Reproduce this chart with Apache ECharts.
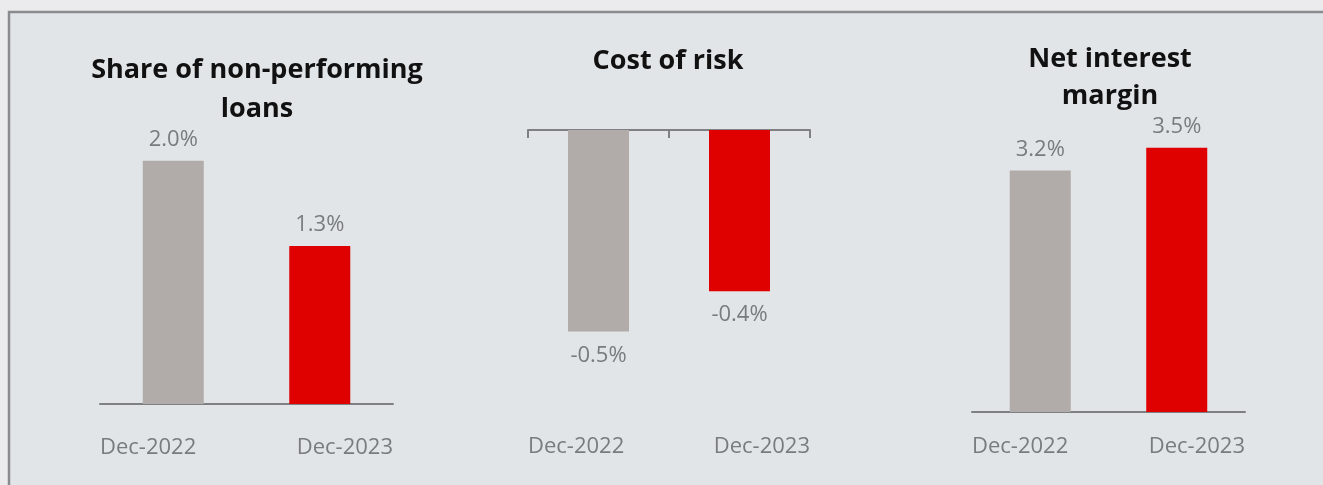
<!DOCTYPE html>
<html>
<head>
<meta charset="utf-8">
<script src="https://cdn.jsdelivr.net/npm/echarts@6/dist/echarts.min.js"></script>
<style>
  html, body { margin: 0; padding: 0; background: #ebebee; }
  #chart { width: 1323px; height: 485px; }
</style>
</head>
<body>
<div id="chart"></div>
<script>
// Period labels shared by all three panels
const categories = ['Dec-2022', 'Dec-2023'];

// Key ratios, in percent
const nplShare = [2.0, 1.3];
const costOfRisk = [-0.5, -0.4];
const netInterestMargin = [3.2, 3.5];

const panelTitles = ['Share of non-performing\nloans', 'Cost of risk', 'Net interest\nmargin'];

const GREY = '#b1aba9';
const RED = '#df0000';
const AXIS = '#7e8084';
const LABEL = '#787b7f';
const FONT = '"Open Sans", "Noto Sans", sans-serif';

const barColors = [GREY, RED];

function barData(values) {
  return values.map((v, i) => ({ value: v, itemStyle: { color: barColors[i] } }));
}

// Period labels sit flush with the ends of each axis line
function periodAxis(gridIndex, margin) {
  return {
    type: 'value', gridIndex: gridIndex, position: 'bottom', min: 0, max: 1, interval: 1,
    axisLine: { show: false }, axisTick: { show: false }, splitLine: { show: false },
    axisLabel: {
      margin: margin, color: LABEL, fontFamily: FONT, fontSize: 22,
      alignMinLabel: 'left', alignMaxLabel: 'right',
      formatter: v => (v === 0 ? categories[0] : categories[1])
    }
  };
}

function barSeries(xIdx, yIdx, values, pos, dist) {
  return {
    type: 'bar', xAxisIndex: xIdx, yAxisIndex: yIdx, barWidth: 61,
    data: barData(values),
    label: {
      show: true, position: pos, distance: dist,
      color: LABEL, fontFamily: FONT, fontSize: 22,
      formatter: p => p.value.toFixed(1) + '%'
    }
  };
}

const chart = echarts.init(document.getElementById('chart'), null, { renderer: 'canvas' });

chart.setOption({
  backgroundColor: '#ebebee',
  animation: false,
  graphic: [
    {
      type: 'rect', z: -10, silent: true,
      shape: { x: 9, y: 12, width: 1400, height: 600 },
      style: { fill: '#e2e5e8', stroke: '#8a8b8f', lineWidth: 2.5 }
    },
    {
      type: 'text', x: 257, y: 51,
      style: { text: panelTitles[0], align: 'center', fill: '#111', font: 'bold 27px ' + FONT, lineHeight: 39 }
    },
    {
      type: 'text', x: 668, y: 42,
      style: { text: panelTitles[1], align: 'center', fill: '#111', font: 'bold 27px ' + FONT, lineHeight: 39 }
    },
    {
      type: 'text', x: 1110, y: 41,
      style: { text: panelTitles[2], align: 'center', fill: '#111', font: 'bold 27px ' + FONT, lineHeight: 37 }
    }
  ],
  grid: [
    { left: 100, right: 930, top: 100, bottom: 81 },
    { left: 528, right: 513, top: 130, bottom: 81 },
    { left: 972, right: 78, top: 110, bottom: 73 }
  ],
  xAxis: [
    {
      type: 'category', gridIndex: 0, data: categories, position: 'bottom',
      axisLine: { lineStyle: { color: AXIS, width: 2 } }, axisTick: { show: false }, axisLabel: { show: false }
    },
    periodAxis(0, 33),
    {
      type: 'category', gridIndex: 1, data: categories, position: 'top',
      axisLine: { lineStyle: { color: AXIS, width: 2 } },
      axisTick: { show: true, inside: true, length: 8, lineStyle: { color: AXIS, width: 2 } },
      axisLabel: { show: false }
    },
    periodAxis(1, 32),
    {
      type: 'category', gridIndex: 2, data: categories, position: 'bottom',
      axisLine: { lineStyle: { color: AXIS, width: 2 } }, axisTick: { show: false }, axisLabel: { show: false }
    },
    periodAxis(2, 24)
  ],
  yAxis: [
    { type: 'value', gridIndex: 0, min: 0, max: 2.5, show: false },
    { type: 'value', gridIndex: 1, min: -0.68, max: 0, show: false },
    { type: 'value', gridIndex: 2, min: 0, max: 4, show: false }
  ],
  series: [
    barSeries(0, 0, nplShare, 'top', 10),
    barSeries(2, 1, costOfRisk, 'bottom', 13),
    barSeries(4, 2, netInterestMargin, 'top', 10)
  ]
});
</script>
</body>
</html>
